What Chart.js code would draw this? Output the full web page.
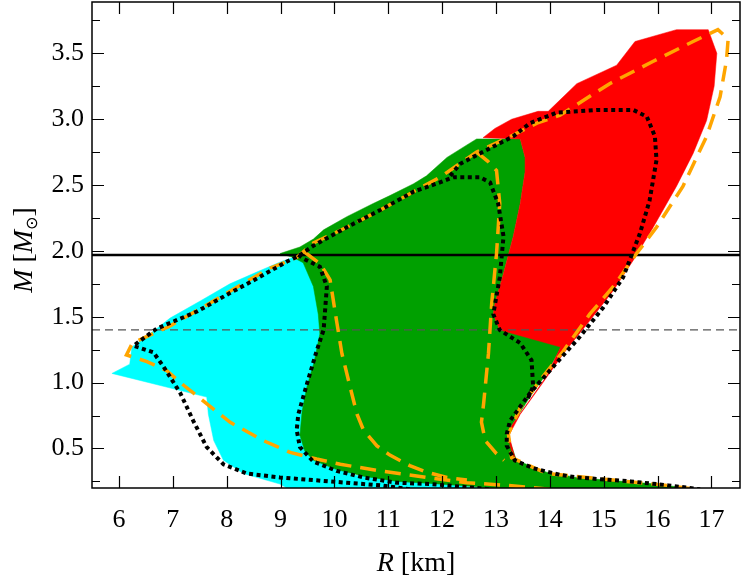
<!DOCTYPE html>
<html>
<head>
<meta charset="utf-8">
<script src="https://cdn.jsdelivr.net/npm/chart.js@4.4.1/dist/chart.umd.min.js"></script>
<style>
  html, body { margin: 0; padding: 0; background: #fff; }
</style>
</head>
<body>
<canvas id="myChart" width="742" height="584"></canvas>
<script>
// tick values
const rTicks = [6, 7, 8, 9, 10, 11, 12, 13, 14, 15, 16, 17];
const mTicks = [0.5, 1.0, 1.5, 2.0, 2.5, 3.0, 3.5];
const mMinor = [0.25, 0.75, 1.25, 1.75, 2.25, 2.75, 3.25, 3.75];

// reference masses
const mMax = 1.97;
const mCanonical = 1.4;

// filled bands, [R km, M Msun]
const cyanBand = [
  [5.87, 1.07], [6.20, 1.14], [6.24, 1.27], [6.70, 1.41], [6.95, 1.49], [7.51, 1.62],
  [8.06, 1.75], [8.56, 1.84], [9.02, 1.92], [9.30, 1.96], [9.6, 1.95], [10.2, 1.5],
  [10.3, 0.3], [12.8, 0.2], [12.8, 0.18], [9.2, 0.18], [8.99, 0.23], [8.31, 0.31],
  [7.94, 0.41], [7.76, 0.56], [7.66, 0.76], [7.63, 0.89]
];
const greenBand = [
  [8.99, 1.98], [9.36, 2.03], [9.61, 2.09], [9.80, 2.16], [10.23, 2.26], [10.72, 2.36],
  [11.03, 2.42], [11.47, 2.51], [11.71, 2.57], [12.09, 2.71], [12.52, 2.82], [12.64, 2.85],
  [13.45, 2.85], [13.54, 2.71], [13.54, 2.60], [13.45, 2.36], [13.32, 2.11], [13.14, 1.83],
  [12.98, 1.60], [12.95, 1.52], [13.07, 1.40], [14.25, 1.30], [13.94, 1.07], [13.63, 0.89],
  [13.30, 0.68], [13.22, 0.60], [13.38, 0.41], [13.94, 0.32], [14.5, 0.28], [15.05, 0.26],
  [15.98, 0.23], [16.7, 0.19], [13.0, 0.19], [12.64, 0.21], [11.78, 0.235], [11.16, 0.25],
  [10.54, 0.29], [10.04, 0.34], [9.61, 0.41], [9.45, 0.48], [9.36, 0.6], [9.40, 0.78],
  [9.49, 0.97], [9.62, 1.15], [9.73, 1.37], [9.70, 1.52], [9.61, 1.73], [9.42, 1.91], [9.24, 1.95]
];
const redBand = [
  [12.76, 2.86], [12.98, 2.93], [13.29, 3.0], [13.78, 3.06], [13.97, 3.06], [14.50, 3.27],
  [15.24, 3.41], [15.58, 3.59], [16.35, 3.68], [16.94, 3.68], [17.10, 3.50], [17.05, 3.25],
  [16.91, 2.99], [16.66, 2.74], [16.35, 2.49], [15.92, 2.18], [15.55, 1.93], [15.18, 1.70],
  [14.74, 1.47], [14.25, 1.22], [13.82, 0.97], [13.45, 0.76], [13.24, 0.60], [13.36, 0.42],
  [13.30, 0.46], [13.22, 0.60], [13.30, 0.68], [13.63, 0.87], [13.94, 1.05], [14.20, 1.27],
  [13.07, 1.40], [12.95, 1.52], [12.98, 1.60], [13.14, 1.83], [13.32, 2.11], [13.45, 2.36],
  [13.54, 2.60], [13.54, 2.71], [13.45, 2.85]
];

// orange dashed contours
const orangeOuter = [
  [14.0, 0.19], [13.2, 0.22], [12.46, 0.24], [11.71, 0.28], [10.85, 0.33], [10.11, 0.38],
  [9.67, 0.42], [9.18, 0.47], [8.68, 0.56], [8.06, 0.70], [7.57, 0.86], [7.14, 1.0],
  [6.89, 1.09], [6.52, 1.16], [6.14, 1.21], [6.25, 1.30], [6.95, 1.43], [7.63, 1.59],
  [8.25, 1.74], [8.81, 1.87], [9.30, 1.95], [9.61, 2.06], [10.23, 2.18], [10.85, 2.31],
  [11.47, 2.45], [11.96, 2.56], [12.21, 2.63], [12.64, 2.75], [13.32, 2.88], [13.76, 2.97],
  [14.19, 3.03], [15.11, 3.27], [15.92, 3.44], [16.66, 3.59], [17.12, 3.68], [17.31, 3.61],
  [17.28, 3.45], [17.16, 3.17], [16.91, 2.87], [16.47, 2.49], [15.98, 2.18], [15.61, 1.98],
  [15.18, 1.73], [14.74, 1.52], [14.25, 1.24], [13.82, 1.02], [13.45, 0.81], [13.23, 0.61],
  [13.29, 0.43], [13.94, 0.31], [15.18, 0.26], [16.17, 0.22], [16.72, 0.19]
];
const orangeLeft = [
  [9.45, 1.99], [9.74, 1.90], [9.92, 1.78], [10.04, 1.47], [10.14, 1.22], [10.29, 0.97],
  [10.42, 0.76], [10.54, 0.64], [10.79, 0.52], [11.03, 0.45], [11.40, 0.37], [11.71, 0.32],
  [12.09, 0.28], [12.46, 0.26]
];
const orangeRight = [
  [12.64, 2.75], [12.85, 2.68], [13.01, 2.61], [13.07, 2.36], [13.01, 1.98], [12.92, 1.60],
  [12.86, 1.22], [12.77, 0.84], [12.73, 0.70], [12.80, 0.56], [13.01, 0.46], [13.15, 0.41]
];

// black dotted contours
const blackOuter = [
  [11.40, 0.19], [10.85, 0.22], [10.23, 0.24], [9.61, 0.26], [8.99, 0.28], [8.37, 0.31],
  [7.94, 0.38], [7.63, 0.51], [7.38, 0.71], [7.14, 0.92], [6.83, 1.12], [6.64, 1.23],
  [6.27, 1.28], [6.70, 1.41], [7.45, 1.54], [8.06, 1.68], [8.56, 1.79], [9.12, 1.92],
  [9.33, 1.96], [9.61, 2.04], [10.23, 2.18], [10.85, 2.31], [11.47, 2.45], [11.96, 2.52],
  [12.21, 2.56], [12.70, 2.56], [12.89, 2.52], [13.04, 2.36], [13.14, 2.11], [13.07, 1.80],
  [12.95, 1.52], [13.07, 1.40], [13.45, 1.30], [13.66, 1.17], [13.69, 0.97], [13.58, 0.87]
];
const blackInner = [
  [9.33, 1.97], [9.43, 1.94], [9.73, 1.88], [9.86, 1.73], [9.80, 1.40], [9.67, 1.24],
  [9.49, 0.99], [9.33, 0.76], [9.30, 0.64], [9.36, 0.51], [9.61, 0.40], [10.04, 0.33],
  [10.54, 0.28], [11.16, 0.24], [11.78, 0.23], [12.64, 0.20], [12.9, 0.19]
];
const blackRight = [
  [12.15, 2.57], [12.33, 2.66], [12.70, 2.74], [13.32, 2.87], [13.63, 2.97], [14.13, 3.05],
  [14.87, 3.07], [15.55, 3.07], [15.80, 3.02], [15.95, 2.87], [15.98, 2.69], [15.85, 2.38],
  [15.67, 2.13], [15.36, 1.80], [14.99, 1.57], [14.56, 1.35], [14.06, 1.12], [13.63, 0.92],
  [13.26, 0.71], [13.20, 0.61], [13.20, 0.52], [13.35, 0.41], [13.69, 0.35], [14.19, 0.30],
  [14.50, 0.28], [15.5, 0.25], [16.2, 0.22], [16.79, 0.19]
];

const serif = "'Liberation Serif', 'Times New Roman', serif";
const pts = (arr) => arr.map(([x, y]) => ({ x: x, y: y }));

const band = (arr, color, order) => ({
  data: pts(arr.concat([arr[0]])),
  backgroundColor: color,
  borderColor: color,
  borderWidth: 0.5,
  fill: "shape",
  order: order,
});

const curve = (arr, color, width, dash, order) => ({
  data: pts(arr),
  borderColor: color,
  borderWidth: width,
  borderDash: dash,
  fill: false,
  order: order,
});

// ticks, frame and axis titles
const frame = {
  id: "frame",
  afterDraw(chart) {
    const { ctx, chartArea: a, scales } = chart;
    const x = scales.x;
    const y = scales.y;
    ctx.save();
    ctx.strokeStyle = "#000";
    ctx.lineWidth = 1.2;
    ctx.beginPath();
    rTicks.forEach((v) => {
      const px = Math.round(x.getPixelForValue(v)) + 0.5;
      ctx.moveTo(px, a.bottom); ctx.lineTo(px, a.bottom - 12);
      ctx.moveTo(px, a.top); ctx.lineTo(px, a.top + 12);
    });
    mTicks.forEach((v) => {
      const py = Math.round(y.getPixelForValue(v)) + 0.5;
      ctx.moveTo(a.left, py); ctx.lineTo(a.left + 12, py);
      ctx.moveTo(a.right, py); ctx.lineTo(a.right - 12, py);
    });
    mMinor.forEach((v) => {
      const py = Math.round(y.getPixelForValue(v)) + 0.5;
      ctx.moveTo(a.left, py); ctx.lineTo(a.left + 8, py);
      ctx.moveTo(a.right, py); ctx.lineTo(a.right - 8, py);
    });
    ctx.stroke();
    ctx.lineWidth = 1.5;
    ctx.strokeRect(a.left, a.top, a.right - a.left, a.bottom - a.top);

    ctx.fillStyle = "#000";
    ctx.textBaseline = "alphabetic";
    ctx.textAlign = "left";
    const drawParts = (parts) => {
      let w = 0;
      parts.forEach((p) => { ctx.font = p.f; p.w = ctx.measureText(p.t).width; w += p.w; });
      let cx = -w / 2;
      parts.forEach((p) => { ctx.font = p.f; ctx.fillText(p.t, cx, p.dy || 0); cx += p.w; });
    };

    // x title
    ctx.save();
    ctx.translate((a.left + a.right) / 2, 571);
    drawParts([
      { t: "R", f: "italic 28px " + serif },
      { t: " [km]", f: "28px " + serif },
    ]);
    ctx.restore();

    // y title
    ctx.save();
    ctx.translate(32, 250);
    ctx.rotate(-Math.PI / 2);
    drawParts([
      { t: "M", f: "italic 28px " + serif },
      { t: " [", f: "28px " + serif },
      { t: "M", f: "italic 28px " + serif },
      { t: "\u2299", f: "16px 'DejaVu Sans'", dy: 5 },
      { t: "]", f: "28px " + serif },
    ]);
    ctx.restore();
    ctx.restore();
  },
};

const myChart = document.querySelector("#myChart").getContext("2d");

new Chart(myChart, {
  type: "line",
  data: {
    datasets: [
      band(cyanBand, "#00ffff", 10),
      band(greenBand, "#00a000", 9),
      band(redBand, "#ff0000", 8),
      curve([[5.5, mMax], [17.6, mMax]], "#000", 2.5, [], 6),
      curve([[5.5, mCanonical], [17.6, mCanonical]], "#555", 1.2, [8, 5], 6),
      curve(orangeOuter, "#ffa500", 3.5, [16, 9], 4),
      curve(orangeLeft, "#ffa500", 3.5, [16, 9], 4),
      curve(orangeRight, "#ffa500", 3.5, [16, 9], 4),
      curve(blackOuter, "#000", 4, [4, 3.5], 2),
      curve(blackInner, "#000", 4, [4, 3.5], 2),
      curve(blackRight, "#000", 4, [4, 3.5], 2),
    ],
  },
  options: {
    responsive: false,
    animation: false,
    devicePixelRatio: 1,
    layout: { padding: { top: 2, right: 2, left: 0, bottom: 0 } },
    elements: { point: { radius: 0 }, line: { tension: 0 } },
    plugins: {
      legend: { display: false },
      tooltip: { enabled: false },
    },
    scales: {
      x: {
        type: "linear",
        min: 5.5,
        max: 17.53,
        afterBuildTicks: (s) => { s.ticks = rTicks.map((v) => ({ value: v })); },
        afterFit: (s) => { s.height = 96; s.paddingLeft = 0; s.paddingRight = 0; },
        grid: { display: false, drawTicks: false },
        border: { display: false },
        ticks: {
          color: "#000",
          font: { family: serif, size: 26 },
          padding: 17,
          maxRotation: 0,
          autoSkip: false,
          callback: (v) => String(v),
        },
      },
      y: {
        type: "linear",
        min: 0.2,
        max: 3.89,
        afterBuildTicks: (s) => { s.ticks = mTicks.map((v) => ({ value: v })); },
        afterFit: (s) => { s.width = 92; s.paddingTop = 0; s.paddingBottom = 0; },
        grid: { display: false, drawTicks: false },
        border: { display: false },
        ticks: {
          color: "#000",
          font: { family: serif, size: 26 },
          padding: 8,
          autoSkip: false,
          callback: (v) => v.toFixed(1),
        },
      },
    },
  },
  plugins: [frame],
});
</script>
</body>
</html>
